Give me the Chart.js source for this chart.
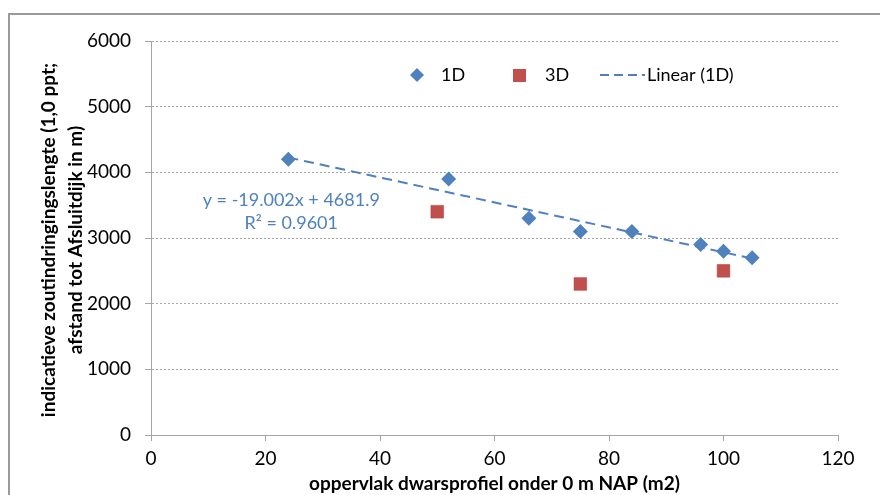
<!DOCTYPE html>
<html>
<head>
<meta charset="utf-8">
<script src="https://cdn.jsdelivr.net/npm/chart.js@4/dist/chart.umd.min.js"></script>
<style>
  html, body { margin: 0; padding: 0; background: #fff; }
  #wrap { width: 880px; height: 495px; position: relative; }
</style>
</head>
<body>
<div id="wrap"><canvas id="chart" width="880" height="495"></canvas></div>
<script>
// data
const x1D = [24, 52, 66, 75, 84, 96, 100, 105];
const y1D = [4200, 3900, 3300, 3100, 3100, 2900, 2800, 2700];
const x3D = [50, 75, 100];
const y3D = [3400, 2300, 2500];
// Excel trendline endpoints (y = -19.002x + 4681.9)
const xTrend = [24, 105];
const yTrend = [4226, 2687];
const eqLines = ["y = -19.002x + 4681.9", "R\u00b2 = 0.9601"];
const xTicks = [0, 20, 40, 60, 80, 100, 120];
const yTicks = [0, 1000, 2000, 3000, 4000, 5000, 6000];
const yTitle = ["indicatieve zoutindringingslengte (1,0 ppt;", "afstand tot Afsluitdijk in m)"];
const xTitle = "oppervlak dwarsprofiel onder 0 m NAP (m2)";

const BLUE = "#4F81BD";
const RED = "#C0504D";
const GRAY = "#a6a6a6";
const FONT = "Lato, 'Open Sans', sans-serif";

function pts(xs, ys) {
  return xs.map((x, i) => ({ x: x, y: ys[i] }));
}

// outer frame, y title, legend and equation text
const extras = {
  id: "extras",
  afterDraw(chart) {
    const ctx = chart.ctx;
    ctx.save();
    ctx.strokeStyle = "#9a9a9a";
    ctx.lineWidth = 2;
    ctx.strokeRect(9, 14, 900, 600);

    // y axis title, two rotated lines
    ctx.save();
    ctx.translate(0, 240);
    ctx.rotate(-Math.PI / 2);
    ctx.font = "bold 19px " + FONT;
    ctx.fillStyle = "#000";
    ctx.textAlign = "center";
    ctx.textBaseline = "middle";
    ctx.fillText(yTitle[0], 0, 49);
    ctx.fillText(yTitle[1], 0, 76);
    ctx.restore();

    // legend
    const ly = 75;
    ctx.font = "18px " + FONT;
    ctx.textBaseline = "middle";
    ctx.textAlign = "left";
    ctx.fillStyle = BLUE;
    ctx.beginPath();
    ctx.moveTo(417, ly - 7);
    ctx.lineTo(424, ly);
    ctx.lineTo(417, ly + 7);
    ctx.lineTo(410, ly);
    ctx.closePath();
    ctx.fill();
    ctx.fillStyle = "#000";
    ctx.fillText("1D", 441, ly);
    ctx.fillStyle = RED;
    ctx.fillRect(513, ly - 6, 13, 13);
    ctx.fillStyle = "#000";
    ctx.fillText("3D", 545, ly);
    ctx.strokeStyle = BLUE;
    ctx.lineWidth = 2;
    ctx.setLineDash([9, 5]);
    ctx.beginPath();
    ctx.moveTo(600, ly);
    ctx.lineTo(645, ly);
    ctx.stroke();
    ctx.setLineDash([]);
    ctx.fillStyle = "#000";
    ctx.fillText("Linear (1D)", 647, ly);

    // trendline equation
    const sx = chart.scales.x, sy = chart.scales.y;
    ctx.fillStyle = BLUE;
    ctx.textAlign = "center";
    ctx.fillText(eqLines[0], sx.getPixelForValue(24.5), sy.getPixelForValue(3570));
    ctx.fillText(eqLines[1], sx.getPixelForValue(24.5), sy.getPixelForValue(3220));
    ctx.restore();
  }
};

new Chart(document.getElementById("chart"), {
  type: "scatter",
  data: {
    datasets: [
      {
        label: "Linear (1D)",
        data: pts(xTrend, yTrend),
        showLine: true,
        borderColor: BLUE,
        borderWidth: 2,
        borderDash: [10, 6],
        pointRadius: 0,
        fill: false,
        order: 2
      },
      {
        label: "1D",
        data: pts(x1D, y1D),
        pointStyle: "rectRot",
        pointRadius: 7.5,
        backgroundColor: BLUE,
        borderColor: BLUE,
        borderWidth: 0,
        order: 1
      },
      {
        label: "3D",
        data: pts(x3D, y3D),
        pointStyle: "rect",
        pointRadius: 9,
        backgroundColor: RED,
        borderColor: "#b04540",
        borderWidth: 0.5,
        order: 1
      }
    ]
  },
  options: {
    responsive: false,
    animation: false,
    layout: { padding: { left: 0, top: 41, right: 42, bottom: 0 } },
    plugins: {
      legend: { display: false },
      tooltip: { enabled: false }
    },
    scales: {
      x: {
        type: "linear",
        min: 0,
        max: 120,
        afterBuildTicks: (s) => { s.ticks = xTicks.map(v => ({ value: v })); },
        afterFit: (s) => { s.height = 60; },
        grid: {
          drawOnChartArea: false,
          drawTicks: true,
          tickLength: 6,
          tickColor: GRAY
        },
        border: { display: true, color: GRAY, width: 1 },
        ticks: {
          padding: 6,
          color: "#000",
          font: { family: FONT, size: 19 },
          callback: (v) => String(v)
        },
        title: {
          display: true,
          text: xTitle,
          color: "#000",
          padding: { top: 0, bottom: 0 },
          font: { family: FONT, size: 19, weight: "bold" }
        }
      },
      y: {
        min: 0,
        max: 6000,
        afterBuildTicks: (s) => { s.ticks = yTicks.map(v => ({ value: v })); },
        afterFit: (s) => { s.width = 151; },
        grid: {
          color: GRAY,
          drawTicks: true,
          tickLength: 6,
          tickColor: GRAY
        },
        border: { display: true, color: GRAY, width: 1, dash: [2, 2] },
        ticks: {
          padding: 14,
          color: "#000",
          font: { family: FONT, size: 19 },
          callback: (v) => String(v)
        },
        title: { display: false }
      }
    }
  },
  plugins: [extras]
});
</script>
</body>
</html>
